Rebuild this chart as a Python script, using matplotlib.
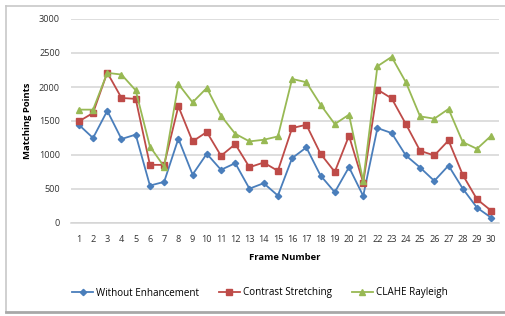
import matplotlib
matplotlib.use("Agg")
import matplotlib.pyplot as plt
from matplotlib.lines import Line2D

frames = list(range(1, 31))
without_enh = [1445, 1250, 1650, 1235, 1300, 550, 605, 1240, 712, 1018,
               782, 880, 505, 585, 403, 954, 1111, 698, 453, 821,
               398, 1396, 1323, 993, 816, 619, 845, 506, 226, 78]
contrast = [1494, 1618, 2212, 1839, 1825, 855, 855, 1716, 1200, 1338,
            988, 1160, 820, 889, 767, 1396, 1445, 1018, 752, 1283,
            594, 1962, 1833, 1455, 1062, 993, 1214, 708, 349, 181]
clahe = [1667, 1667, 2208, 2183, 1951, 1125, 830, 2045, 1774, 1986,
         1578, 1312, 1200, 1224, 1273, 2119, 2070, 1740, 1455, 1593,
         619, 2305, 2443, 2070, 1568, 1534, 1677, 1190, 1091, 1283]
series_names = ["Without Enhancement", "Contrast Stretching", "CLAHE Rayleigh"]
y_ticks = [0, 500, 1000, 1500, 2000, 2500, 3000]

W, H = 506, 316
fig = plt.figure(figsize=(W / 100, H / 100), dpi=100)
plt.rcParams['font.family'] = ['Open Sans', 'DejaVu Sans']

# frame border
fig.add_artist(Line2D([6 / W, 6 / W], [1 - 6 / H, 1 - 312 / H], color='#c8c8c8', lw=1.2))
fig.add_artist(Line2D([6 / W, 1], [1 - 6 / H, 1 - 6 / H], color='#c8c8c8', lw=1.2))
fig.add_artist(Line2D([6 / W, 1], [1 - 312 / H, 1 - 312 / H], color='#a8a8a8', lw=2.0))

x0, x1 = 71, 499
y_top, y_bot = 19, 223
ax = fig.add_axes([x0 / W, 1 - y_bot / H, (x1 - x0) / W, (y_bot - y_top) / H])

colors = ['#4a7ebb', '#be4b48', '#98b954']
markers = ['D', 's', '^']
msizes = [3.2, 4.2, 4.4]
for vals, c, m, ms, name in zip([without_enh, contrast, clahe], colors, markers, msizes, series_names):
    ax.plot(frames, vals, color=c, lw=1.3, marker=m, ms=ms, mec=c, mfc=c, label=name)

ax.set_xlim(0.45, 30.55)
ax.set_ylim(0, 3000)
ax.set_yticks(y_ticks)
ax.set_xticks(frames)
ax.grid(axis='y', color='#d4d4d4', lw=1.1)
ax.set_axisbelow(True)
for s in ['top', 'right', 'left']:
    ax.spines[s].set_visible(False)
ax.spines['bottom'].set_color('#d4d4d4')
ax.spines['bottom'].set_linewidth(1.1)
ax.tick_params(axis='both', length=0, labelsize=6.6, colors='#333333')
ax.tick_params(axis='x', pad=9)
ax.tick_params(axis='y', pad=8)
ax.set_xlabel('Frame Number', fontsize=6.8, fontweight='bold', labelpad=6)
ax.set_ylabel('Matching Points', fontsize=6.8, fontweight='bold', labelpad=5)

leg = fig.legend(loc='center', bbox_to_anchor=(260 / W, 1 - 293 / H), ncol=3, frameon=False,
                 fontsize=7.1, handlelength=2.1, columnspacing=2.0, handletextpad=0.35)

fig.savefig('out.png', dpi=100)
